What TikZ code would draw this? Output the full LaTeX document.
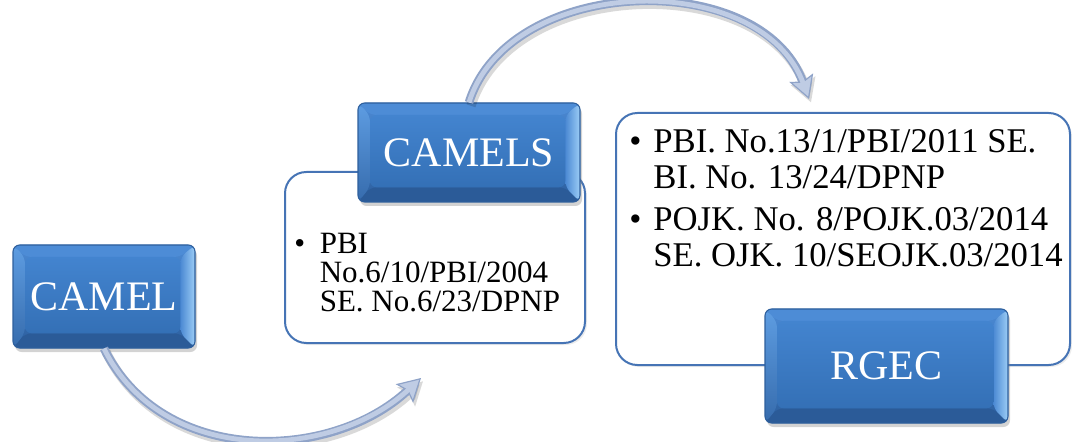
\documentclass[tikz,border=0pt]{standalone}
\usepackage{fontspec}
\setmainfont{Liberation Serif}
\usetikzlibrary{arrows.meta,shadows,calc}

\definecolor{boxtop}{HTML}{4B89D3}
\definecolor{boxbot}{HTML}{2C5F9F}
\definecolor{boxedge}{HTML}{2E5F9C}
\definecolor{faceTop}{HTML}{4384CF}
\definecolor{faceBot}{HTML}{3470B6}
\definecolor{bevLeft}{HTML}{5E9DE2}
\definecolor{bevRight}{HTML}{9CCDF6}
\definecolor{bevTop}{HTML}{4D8CD6}
\definecolor{bevBot}{HTML}{2B5B98}
\definecolor{tbedge}{HTML}{4674B5}
\definecolor{arrowedge}{HTML}{8FA3C8}
\definecolor{arrowfill}{HTML}{BFCCE4}

% curved block arrow: soft shadow, dark rim, light core
\newcommand\drawflow[4]{%
  \draw[flowshadow] (#1) .. controls #2 and #3 .. (#4);
  \draw[flowedge] (#1) .. controls #2 and #3 .. (#4);
  \draw[flowlight] (#1) .. controls #2 and #3 .. (#4);
}

\begin{document}
\begin{tikzpicture}[x=0.75pt,y=-0.75pt,
  bevelbox/.style={draw=boxedge, line width=0.8pt, rounded corners=5pt,
    top color=boxtop, bottom color=boxbot, text=white, inner sep=0pt,
    font=\fontsize{31.5pt}{34pt}\selectfont,
    drop shadow={opacity=0.35, shadow xshift=1.5pt, shadow yshift=-3pt},
    path picture={
      \path (path picture bounding box.north west) coordinate (bvNW)
            (path picture bounding box.north east) coordinate (bvNE)
            (path picture bounding box.south west) coordinate (bvSW)
            (path picture bounding box.south east) coordinate (bvSE)
            ([shift={(9pt,-9pt)}]path picture bounding box.north west) coordinate (bvnw)
            ([shift={(-11pt,-9pt)}]path picture bounding box.north east) coordinate (bvne)
            ([shift={(9pt,11pt)}]path picture bounding box.south west) coordinate (bvsw)
            ([shift={(-11pt,11pt)}]path picture bounding box.south east) coordinate (bvse);
      \fill[bevTop] (bvNW) -- (bvNE) -- (bvne) -- (bvnw) -- cycle;
      \fill[bevBot] (bvSW) -- (bvSE) -- (bvse) -- (bvsw) -- cycle;
      \shade[top color=bevLeft, bottom color=boxbot!80!bevLeft] (bvNW) -- (bvSW) -- (bvsw) -- (bvnw) -- cycle;
      \shade[left color=boxtop, right color=bevRight] (bvNE) -- (bvSE) -- (bvse) -- (bvne) -- cycle;
      \shade[top color=faceTop, bottom color=faceBot] (bvnw) rectangle (bvse);
    }},
  textbox/.style={draw=tbedge, line width=1.5pt, rounded corners=16pt,
    fill=white, inner sep=0pt,
    drop shadow={opacity=0.15, shadow xshift=1.5pt, shadow yshift=-1.5pt}},
  flowshadow/.style={draw=black, opacity=0.15, line width=7pt,
    transform canvas={shift={(1.5pt,-2.5pt)}},
    -{Stealth[length=17pt,width=19pt,inset=3pt]}},
  flowedge/.style={draw=arrowedge, line width=6.5pt,
    -{Stealth[length=17pt,width=19pt,inset=3pt,fill=arrowfill,line width=0.9pt]}},
  flowlight/.style={draw=arrowfill, line width=3.6pt, shorten >=12pt}
]
\useasboundingbox (0,0) rectangle (1072,442);

% text panels
\node[textbox, minimum width=300*0.75pt, minimum height=171*0.75pt] (camelsbox) at (435,257.5) {};
\node[textbox, minimum width=454*0.75pt, minimum height=252*0.75pt] (rgecbox) at (843,239) {};

% panel contents
\node[anchor=north west, inner sep=0pt, font=\fontsize{23.25pt}{20.8pt}\selectfont] (camelstext) at (294,233.1)
  {\begin{tabular}{@{}l@{\hspace{11pt}}l@{}}
   \textbullet & PBI\\
               & No.6/10/PBI/2004\\
               & SE. No.6/23/DPNP
   \end{tabular}};
\node[anchor=north west, inner sep=0pt, font=\fontsize{26pt}{27pt}\selectfont] (rgectext) at (629,127.3)
  {\begin{tabular}{@{}l@{\hspace{9pt}}l@{}}
   \textbullet & PBI. No.13/1/PBI/2011 SE.\\
               & BI. No. 13/24/DPNP\\[4.5pt]
   \textbullet & POJK. No. 8/POJK.03/2014\\
               & SE. OJK. 10/SEOJK.03/2014
   \end{tabular}};

% framework blocks
\node[bevelbox, minimum width=182*0.75pt, minimum height=103*0.75pt] (camel) at (104,296.5) {CAMEL};
\node[bevelbox, minimum width=222*0.75pt, minimum height=99*0.75pt] (camels) at (469,152.5) {CAMELS};
\node[bevelbox, minimum width=243*0.75pt, minimum height=114*0.75pt] (rgec) at (886.5,366) {RGEC};

% arrow end points beside the panels
\coordinate (tipone) at ($(camelsbox.south west)+(137,34)$);
\coordinate (tiptwo) at ($(rgecbox.north west)+(194,-13)$);

\drawflow{camel.south}{+(58,118)}{+(-90,84)}{tipone}
\drawflow{camels.north}{+(40,-128)}{+(-48,-132)}{tiptwo}
\end{tikzpicture}
\end{document}
